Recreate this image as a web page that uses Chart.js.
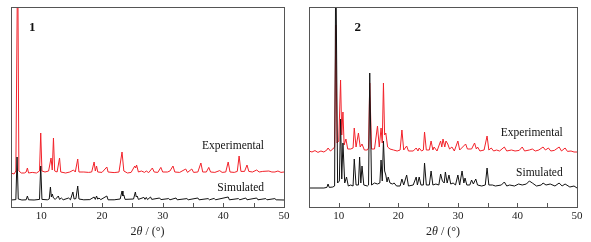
<!DOCTYPE html>
<html>
<head>
<meta charset="utf-8">
<script src="https://cdn.jsdelivr.net/npm/chart.js@4.4.1/dist/chart.umd.min.js"></script>
<style>
  body { margin: 0; background: #fff; }
  canvas { position: absolute; top: 0; }
  #c1 { left: 0; }
  #c2 { left: 296px; }
</style>
</head>
<body>
<canvas id="c1" width="296" height="242"></canvas>
<canvas id="c2" width="295" height="242"></canvas>
<script>
// x = 2theta (deg), y = intensity (arbitrary, offset)
var sim1 = [[5,3.5],[5.8,3.7],[6.0,25],[6.2,4],[6.8,3.5],[7.5,3.6],[7.7,5.5],[7.9,3.6],[8.8,3.5],[9.7,3.8],[9.9,20.5],[10.1,3.8],
  [11.0,3.6],[11.3,4],[11.5,10],[11.65,5],[11.8,6.5],[12.0,4.5],[12.3,3.8],[12.8,5.5],[13.0,3.8],[13.3,4.5],[13.6,3.6],
  [14.5,4.5],[14.8,3.6],[15.2,7.5],[15.4,4],[15.7,4.2],[16.0,10.5],[16.2,4],[17.0,3.6],[18.0,3.7],[18.7,5],[18.9,3.8],
  [19.1,5.5],[19.3,3.9],[19.5,4.5],[19.8,3.7],[20.8,5.5],[21.0,3.6],[22.0,3.6],[23.0,4],[23.3,8],[23.45,5.5],[23.6,6],
  [23.8,3.8],[25.2,4],[25.5,7.5],[25.65,5],[25.8,5.5],[26.0,3.8],[26.9,4.8],[27.1,3.8],[27.3,4.8],[27.5,3.7],[28.0,5],
  [28.2,3.8],[29.5,4.5],[29.7,3.7],[31.0,4.2],[31.2,3.6],[32.2,4.5],[32.4,3.6],[34.0,4.2],[34.2,3.6],[35.8,4.5],[36.0,3.6],
  [37.5,4.2],[37.7,3.6],[38.5,4.3],[38.7,3.6],[40.8,5],[41.0,3.6],[42.5,4.2],[42.7,3.6],[43.7,4.5],[43.9,3.6],[45.5,4.5],
  [45.7,3.6],[47.0,4.2],[47.2,3.6],[48.5,4.2],[48.7,3.6],[50,3.5]];

var exp1 = [[5,17],[5.5,16.5],[5.8,18],[6.1,130],[6.3,18],[6.7,17],[7.2,17],[7.5,17.5],[7.7,19.5],[7.9,17],[8.5,17.3],
  [9.2,17],[9.7,18],[9.9,37],[10.1,18],[10.6,17.5],[11.2,18],[11.6,24.5],[11.8,18.5],[12.0,34.5],[12.2,18],[12.6,17.5],
  [13.0,24.5],[13.2,17.5],[14.0,17],[14.7,17.5],[15.3,18.5],[15.6,17.5],[16.0,24],[16.2,17.5],[17.0,17.5],[17.8,17.3],
  [18.3,17.5],[18.7,22.5],[18.9,18],[19.1,20.5],[19.3,17.5],[20.0,17.3],[20.8,20],[21.0,17.5],[22.0,17.2],[22.8,17.5],
  [23.3,27.5],[23.6,18],[24.2,17],[24.8,17.3],[25.4,20.5],[25.55,19.5],[25.7,21],[26.0,17.5],[26.5,18],[27.0,17.3],
  [27.3,18],[27.7,17.2],[28.3,19.5],[28.6,17.5],[29.2,17.3],[29.7,19.8],[30.0,17.5],[30.8,17.5],[31.2,18],[31.7,20.5],
  [32.0,17.5],[32.8,17.3],[33.8,19],[34.1,17.3],[34.8,19],[35.1,17.3],[35.8,17.5],[36.3,22],[36.6,17.5],[37.2,17.5],
  [37.6,19.8],[37.9,17.5],[38.6,17.3],[39.4,18.2],[39.8,17.3],[40.4,17.5],[40.8,22.5],[41.1,17.5],[41.8,17.3],[42.3,17.8],
  [42.6,25.5],[42.9,17.8],[43.5,17.8],[43.9,21],[44.2,17.8],[44.8,17.5],[45.5,18.5],[45.9,17.5],[46.5,17.8],[47.5,18],
  [48.0,17.5],[48.5,17.5],[49.0,18],[49.5,17.3],[50,17.5]];

var sim2 = [[5,9.5],[7.5,9.5],[8.0,9.8],[8.2,11.5],[8.4,9.8],[9.0,10],[9.3,10.5],[9.5,130],[9.8,12],[10.1,13],[10.3,44],
  [10.5,14],[10.7,32],[11.0,12],[11.3,15],[11.6,10.5],[12.0,11],[12.4,10.5],[12.6,24],[12.9,11],[13.3,11],[13.5,25],[13.7,12],
  [13.9,20.5],[14.2,11],[14.8,10.5],[15.0,11],[15.2,67],[15.5,11],[16.0,12],[16.5,11.5],[16.9,12],[17.1,23.5],[17.3,13],
  [17.5,33],[17.7,18],[17.9,16],[18.1,12.5],[18.3,15],[18.6,12],[19.0,11.5],[19.3,12],[19.7,10.5],[20.3,10.5],[20.6,14],
  [20.9,11],[21.4,16],[21.7,10.5],[22.5,11],[23.0,15],[23.2,11],[23.5,15],[23.8,11],[24.2,11],[24.4,22],[24.7,11],[25.2,11],
  [25.5,18],[25.8,11],[26.3,11.5],[26.8,11],[27.1,16.5],[27.4,13],[27.7,12],[27.9,17.5],[28.2,12],[28.5,16],[28.8,11.5],
  [29.2,12],[29.6,11],[30.0,16],[30.3,11],[30.7,18],[31.0,12],[31.2,14.5],[31.5,11],[32.0,11],[32.3,13.5],[32.6,11.5],
  [33.0,14],[33.3,11],[34.0,10.5],[34.6,11],[34.9,19.5],[35.2,11],[35.8,11],[36.3,10.5],[37.3,11],[37.8,12.5],[38.2,10.5],
  [38.7,11],[39.5,10.5],[40.2,11.5],[40.8,11],[41.5,11.5],[42.0,13],[42.5,12],[43.2,10.5],[44.0,11],[44.3,12],[44.8,11],
  [45.5,11.5],[46.3,10.5],[47.0,12],[47.5,10.5],[48.0,11.5],[48.8,10],[49.5,10.5],[50,9.5]];

var exp2 = [[5,28],[5.5,27.5],[6,28.2],[6.5,27.3],[7,28],[7.5,27.5],[8.0,28.5],[8.2,29.5],[8.6,28],[9.0,29],[9.3,30],
  [9.5,91],[9.7,32],[10.0,33],[10.3,63.5],[10.5,36],[10.7,47.5],[10.9,31],[11.2,34],[11.5,29],[12.0,29],[12.4,29.5],
  [12.6,39.5],[12.9,30],[13.3,37],[13.6,30],[13.9,31.5],[14.3,28.5],[14.8,28.5],[15.0,29.5],[15.2,62],[15.5,29],[16.0,29],
  [16.5,40.5],[16.8,30],[17.1,39.5],[17.3,32],[17.5,62],[17.7,36],[17.9,37],[18.2,30],[18.6,29],[19.2,28.5],[19.8,28],
  [20.3,28.5],[20.6,38.5],[20.9,28.5],[21.4,30.5],[21.7,28],[22.5,28],[23.0,29.5],[23.3,28],[23.5,29.5],[23.9,28],[24.2,28.5],
  [24.4,37.5],[24.7,28.5],[25.2,28.5],[25.5,33],[25.8,28.5],[26.0,30],[26.5,28],[27.1,33],[27.3,30],[27.5,34],[27.8,30],
  [28.0,33],[28.3,31.5],[28.6,29],[29.0,30],[29.4,28],[30.0,33],[30.3,28.5],[30.8,30],[31.3,31.5],[31.6,29],[32.3,29],
  [32.8,32],[33.1,29],[33.3,30],[33.7,28],[34.4,28.5],[34.9,35.5],[35.2,28.5],[35.6,29.5],[36.0,28],[36.5,28.5],[37.0,28],
  [37.8,30],[38.2,28],[39.0,28.5],[39.6,28],[40.3,28.3],[40.8,30],[41.2,28],[42.0,28.5],[42.5,29],[43.0,28],[43.6,28.5],
  [44.3,30],[44.7,28.5],[45.2,29.5],[45.6,28],[46.2,28.3],[47.0,30],[47.4,28],[48.0,29.5],[48.4,27.8],[49.0,28],[49.5,27.5],
  [50,27.5]];

var tickLabels = [10, 20, 30, 40, 50];
// axis title pieces: [text, italic]
var axisTitle = [['2', false], ['θ', true], [' / (°)', false]];

var SERIF = "'Liberation Serif', 'Times New Roman', serif";
Chart.defaults.font.family = SERIF;
Chart.defaults.color = '#222';

function toPts(arr) {
  return arr.map(function (p) { return { x: p[0], y: p[1] }; });
}

// frame box, inward minor ticks, axis title and the text labels inside the plot
var framePlugin = {
  id: 'frame',
  afterDraw: function (chart) {
    var ctx = chart.ctx, a = chart.chartArea, xs = chart.scales.x, ys = chart.scales.y;
    ctx.save();
    ctx.strokeStyle = '#555';
    ctx.lineWidth = 1;
    ctx.strokeRect(Math.round(a.left) + 0.5, Math.round(a.top) + 0.5,
      Math.round(a.right - a.left), Math.round(a.bottom - a.top));
    xs.ticks.forEach(function (t) {
      if (t.value <= 5 || t.value >= 50) return;
      var px = Math.round(xs.getPixelForValue(t.value)) + 0.5;
      ctx.beginPath();
      ctx.moveTo(px, a.bottom);
      ctx.lineTo(px, a.bottom - 4);
      ctx.stroke();
    });

    // axis title with italic theta
    ctx.fillStyle = '#222';
    ctx.textBaseline = 'middle';
    ctx.textAlign = 'left';
    var total = 0;
    axisTitle.forEach(function (p) {
      ctx.font = (p[1] ? 'italic ' : '') + '12px ' + SERIF;
      total += ctx.measureText(p[0]).width;
    });
    var tx = (a.left + a.right) / 2 - total / 2, ty = xs.bottom - 10;
    axisTitle.forEach(function (p) {
      ctx.font = (p[1] ? 'italic ' : '') + '12px ' + SERIF;
      ctx.fillText(p[0], tx, ty);
      tx += ctx.measureText(p[0]).width;
    });

    var notes = chart.options.plugins.frame.notes;
    notes.forEach(function (n) {
      ctx.font = (n.bold ? 'bold ' : '') + n.size + 'px ' + SERIF;
      ctx.fillStyle = '#111';
      ctx.textAlign = n.align;
      ctx.textBaseline = 'middle';
      ctx.fillText(n.text, xs.getPixelForValue(n.x), ys.getPixelForValue(n.y));
    });
    ctx.restore();
  }
};

function makeChart(id, sim, exp, pad, notes) {
  return new Chart(document.getElementById(id), {
    type: 'line',
    data: {
      datasets: [{
        label: 'Simulated',
        data: toPts(sim),
        borderColor: '#111',
        borderWidth: 1,
        pointRadius: 0,
        tension: 0
      }, {
        label: 'Experimental',
        data: toPts(exp),
        borderColor: '#f2222a',
        borderWidth: 1,
        pointRadius: 0,
        tension: 0
      }]
    },
    options: {
      responsive: false,
      animation: false,
      layout: { padding: pad },
      plugins: {
        legend: { display: false },
        tooltip: { enabled: false },
        frame: { notes: notes }
      },
      scales: {
        x: {
          type: 'linear',
          min: 5,
          max: 50,
          ticks: {
            stepSize: 5,
            padding: 3,
            font: { size: 11 },
            color: '#222',
            maxRotation: 0,
            autoSkip: false,
            callback: function (v) { return tickLabels.indexOf(v) >= 0 ? String(v) : ''; }
          },
          grid: { display: false, drawTicks: false },
          border: { display: false },
          title: { display: false },
          afterFit: function (s) { s.height = 35; }
        },
        y: {
          display: false,
          min: 0,
          max: 100
        }
      }
    },
    plugins: [framePlugin]
  });
}

makeChart('c1', sim1, exp1, { left: 11, right: 12, top: 7, bottom: 0 }, [
  { text: '1', x: 8.5, y: 89.5, align: 'center', bold: true, size: 13 },
  { text: 'Experimental', x: 46.7, y: 30.5, align: 'right', size: 11.5 },
  { text: 'Simulated', x: 46.7, y: 9.5, align: 'right', size: 11.5 }
]);

makeChart('c2', sim2, exp2, { left: 13, right: 14, top: 7, bottom: 0 }, [
  { text: '2', x: 13.2, y: 89.5, align: 'center', bold: true, size: 13 },
  { text: 'Experimental', x: 47.6, y: 37, align: 'right', size: 11.5 },
  { text: 'Simulated', x: 47.6, y: 17, align: 'right', size: 11.5 }
]);
</script>
</body>
</html>
